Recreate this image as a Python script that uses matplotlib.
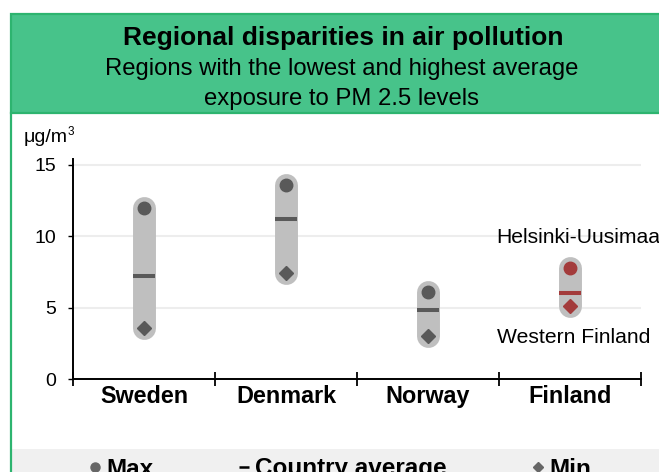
import matplotlib
matplotlib.use("Agg")
import matplotlib.pyplot as plt
from matplotlib.patches import Rectangle
from matplotlib.lines import Line2D

plt.rcParams['font.family'] = ['Liberation Sans', 'DejaVu Sans']

countries = ["Sweden", "Denmark", "Norway", "Finland"]
max_vals = [12.0, 13.6, 6.1, 7.8]
avg_vals = [7.2, 11.2, 4.8, 6.0]
min_vals = [3.6, 7.4, 3.0, 5.1]
highlight = "Finland"
max_region = "Helsinki-Uusimaa"
min_region = "Western Finland"
yticks = [0, 5, 10, 15]

W, H = 659, 472
fig = plt.figure(figsize=(W / 100, H / 100), dpi=100)


def fx(x):
    return x / W


def fy(y):
    return 1 - y / H


GREEN_FILL = "#47C38A"
GREEN_EDGE = "#2DB46F"
DARK = "#595959"
RED = "#A33B3B"
PILL = "#BFBFBF"

# Card frame: green header band, left border, grey legend strip
fig.patches.append(Rectangle((fx(10.5), fy(113)), fx(700), 99 / H,
                             transform=fig.transFigure, facecolor=GREEN_FILL,
                             edgecolor=GREEN_EDGE, lw=1.6, zorder=0))
fig.add_artist(Line2D([fx(10.8), fx(10.8)], [fy(113), fy(480)],
                      transform=fig.transFigure, color=GREEN_EDGE, lw=1.6))
fig.patches.append(Rectangle((fx(12), 0), 1, 1 - 449 / H,
                             transform=fig.transFigure, facecolor="#F0F0F0",
                             edgecolor="none", zorder=0))

fig.text(fx(343), fy(45), "Regional disparities in air pollution",
         ha="center", va="baseline", fontsize=19, fontweight="bold")
fig.text(fx(342), fy(74.5), "Regions with the lowest and highest average",
         ha="center", va="baseline", fontsize=17.2)
fig.text(fx(342), fy(105), "exposure to PM 2.5 levels",
         ha="center", va="baseline", fontsize=17.2)
fig.text(fx(24), fy(142), "μg/m", ha="left", va="baseline", fontsize=14)
fig.text(fx(67.5), fy(135), "3", ha="left", va="baseline", fontsize=8.5)

# Plot area
ax = fig.add_axes([fx(73), fy(379), (641 - 73) / W, (379 - 159) / H])
ax.set_xlim(-0.5, len(countries) - 0.5)
ax.set_ylim(0, 15.4)

for i, c in enumerate(countries):
    col = RED if c == highlight else DARK
    ax.plot([i, i], [min_vals[i], max_vals[i]], color=PILL, lw=16.5,
            solid_capstyle="round", zorder=2)
    ax.plot(i, max_vals[i], marker="o", ms=9, color=col, ls="none", zorder=3)
    ax.plot(i, avg_vals[i], marker="_", ms=16, mew=2.9, color=col, ls="none", zorder=3)
    ax.plot(i, min_vals[i], marker="D", ms=6.8, color=col, ls="none", zorder=3)

hi = countries.index(highlight)
ax.annotate(max_region, xy=(hi, max_vals[hi]), xytext=(-53.3, 18),
            textcoords="offset points", ha="left", va="baseline",
            fontsize=15.2, annotation_clip=False)
ax.annotate(min_region, xy=(hi, min_vals[hi]), xytext=(-52.6, -26.4),
            textcoords="offset points", ha="left", va="baseline",
            fontsize=15.2, annotation_clip=False)

ax.set_yticks(yticks)
ax.set_yticklabels([str(v) for v in yticks])
ax.tick_params(axis="y", direction="out", length=3.6, width=1.0, pad=8.5,
               labelsize=14)
ax.set_xticks([i - 0.5 for i in range(len(countries) + 1)])
ax.set_xticklabels([])
ax.set_xticks(range(len(countries)), minor=True)
ax.set_xticklabels(countries, minor=True, fontsize=16.8, fontweight="bold")
ax.tick_params(axis="x", which="major", direction="inout", length=9.4, width=1.3)
ax.tick_params(axis="x", which="minor", length=0, pad=4.5)

ax.grid(axis="y", color="#EDEDED", lw=1.5, zorder=0)
ax.set_axisbelow(True)
for s in ("top", "right"):
    ax.spines[s].set_visible(False)
for s in ("left", "bottom"):
    ax.spines[s].set_linewidth(1.4)
    ax.spines[s].set_color("black")

handles = [
    Line2D([], [], marker="o", ms=6.5, color="#666666", ls="none"),
    Line2D([], [], marker="_", ms=7.5, mew=1.8, color="black", ls="none"),
    Line2D([], [], marker="D", ms=5, color="#666666", ls="none"),
]
fig.legend(handles, ["Max", "Country average", "Min"], ncol=3,
           loc="center left", bbox_to_anchor=(fx(88), fy(469)),
           frameon=False, handlelength=0.6, handletextpad=0.15,
           columnspacing=3.45, borderaxespad=0, borderpad=0,
           prop={"size": 17.5, "weight": "bold"})

fig.savefig("out.png", dpi=100)
